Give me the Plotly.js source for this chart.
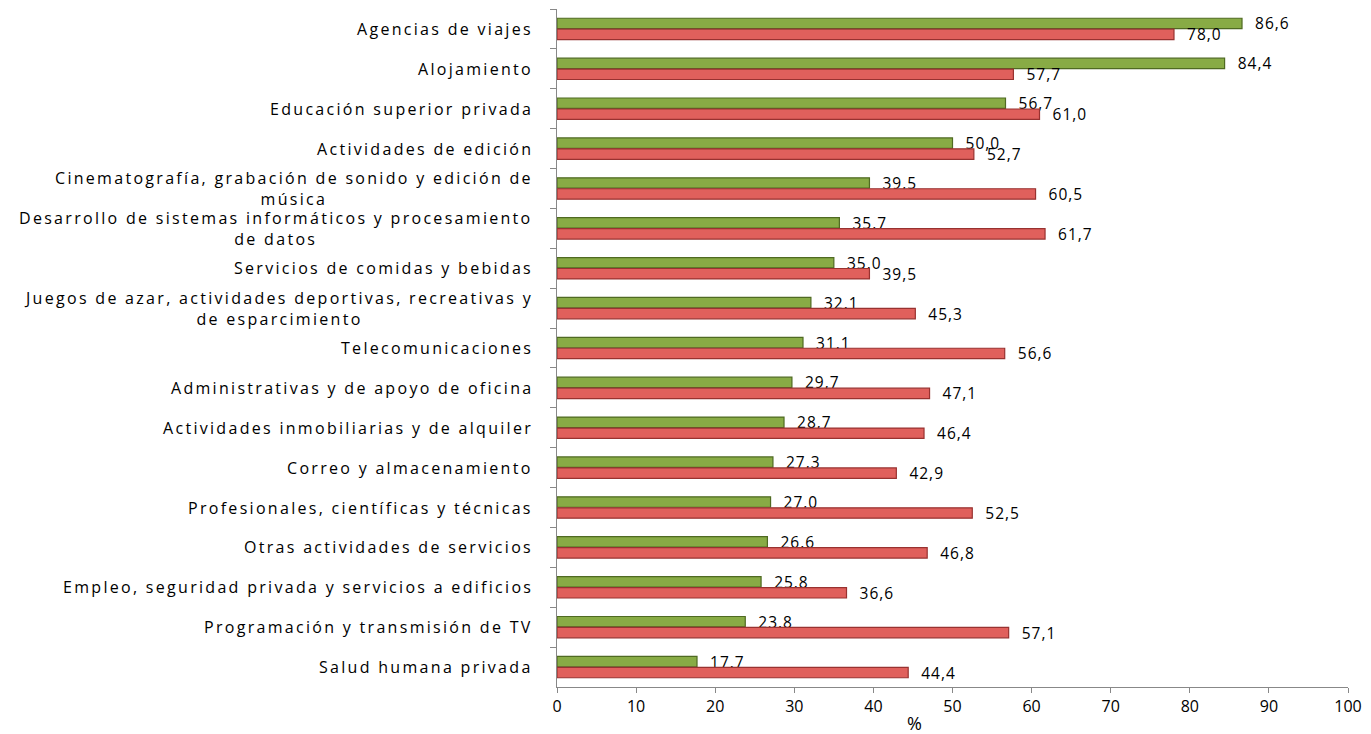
<!DOCTYPE html>
<html>
<head>
<meta charset="utf-8">
<script src="https://cdn.plot.ly/plotly-3.0.1.min.js"></script>
<style>
html,body{margin:0;padding:0;background:#fff;}
#chart{width:1371px;height:734px;}
text.annotation-text{letter-spacing:2.3px;}
text.bartext{letter-spacing:1px;}
</style>
</head>
<body>
<div id="chart"></div>
<script>
const categories = [
  "Agencias de viajes",
  "Alojamiento",
  "Educación superior privada",
  "Actividades de edición",
  "Cinematografía, grabación de sonido y edición de<br>música",
  "Desarrollo de sistemas informáticos y procesamiento<br>de datos",
  "Servicios de comidas y bebidas",
  "Juegos de azar, actividades deportivas, recreativas y<br>de esparcimiento",
  "Telecomunicaciones",
  "Administrativas y de apoyo de oficina",
  "Actividades inmobiliarias y de alquiler",
  "Correo y almacenamiento",
  "Profesionales, científicas y técnicas",
  "Otras actividades de servicios",
  "Empleo, seguridad privada y servicios a edificios",
  "Programación y transmisión de TV",
  "Salud humana privada"
];
const greenValues = [86.6, 84.4, 56.7, 50.0, 39.5, 35.7, 35.0, 32.1, 31.1, 29.7, 28.7, 27.3, 27.0, 26.6, 25.8, 23.8, 17.7];
const redValues   = [78.0, 57.7, 61.0, 52.7, 60.5, 61.7, 39.5, 45.3, 56.6, 47.1, 46.4, 42.9, 52.5, 46.8, 36.6, 57.1, 44.4];
const xTicks = [0, 10, 20, 30, 40, 50, 60, 70, 80, 90, 100];

const FONT = "Open Sans, Noto Sans, sans-serif";
const common = {
  type: 'bar', orientation: 'h', y: categories,
  textposition: 'outside', texttemplate: '\u00a0\u00a0%{x:.1f}', constraintext: 'none',
  textfont: {family: FONT, size: 15.5, color: '#000'},
  cliponaxis: false, hoverinfo: 'x+y'
};
const traces = [
  Object.assign({}, common, {x: greenValues, name: 'A',
    marker: {color: '#88ab45', line: {color: '#4f6a22', width: 1.2}}}),
  Object.assign({}, common, {x: redValues, name: 'B',
    marker: {color: '#e0605c', line: {color: '#983230', width: 1.2}}})
];

const annotations = categories.map(c => ({
  text: c, x: 0, xref: 'paper', y: c, yref: 'y',
  xanchor: 'right', yanchor: 'middle', xshift: -22, align: 'center',
  showarrow: false, font: {family: FONT, size: 16, color: '#000'}
}));
annotations.push({text: '%', x: 45.3, xref: 'x', y: 0, yref: 'paper', yshift: -36,
  xanchor: 'center', yanchor: 'middle', showarrow: false,
  font: {family: FONT, size: 18, color: '#000'}});

const layout = {
  width: 1371, height: 734,
  margin: {l: 557, r: 23, t: 9, b: 47},
  paper_bgcolor: '#fff', plot_bgcolor: '#fff',
  barmode: 'group', bargap: 0.45, bargroupgap: 0.05,
  showlegend: false,
  separators: ',.',
  font: {family: FONT, size: 16, color: '#000'},
  xaxis: {range: [0, 100], tickvals: xTicks, showgrid: false, zeroline: false,
    showline: true, linecolor: '#888', linewidth: 1, ticks: 'outside', ticklen: 5,
    tickcolor: '#888', tickfont: {family: FONT, size: 16, color: '#000'}},
  yaxis: {autorange: 'reversed', showticklabels: false, showgrid: false, zeroline: false,
    showline: true, linecolor: '#888', linewidth: 1, ticks: 'outside', ticklen: 6,
    tickcolor: '#888', tickson: 'boundaries'},
  annotations: annotations
};
Plotly.newPlot('chart', traces, layout, {displayModeBar: false, staticPlot: true});
</script>
</body>
</html>
